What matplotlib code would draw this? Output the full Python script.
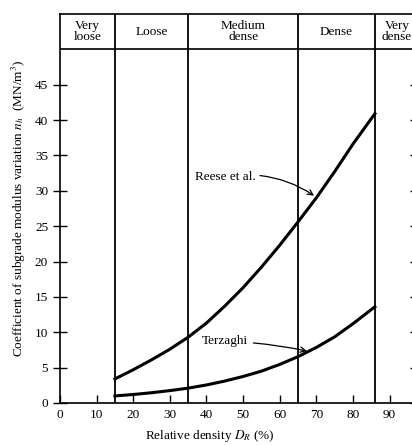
import matplotlib
matplotlib.use("Agg")
import matplotlib.pyplot as plt

plt.rcParams['font.family'] = ['Liberation Serif', 'DejaVu Serif']
plt.rcParams['mathtext.fontset'] = 'stix'

# data
reese_x = [15, 20, 25, 30, 35, 40, 45, 50, 55, 60, 65, 70, 75, 80, 86]
reese_y = [3.4, 4.7, 6.1, 7.6, 9.3, 11.3, 13.7, 16.3, 19.2, 22.3, 25.6, 29.0, 32.7, 36.6, 40.9]
terz_x = [15, 20, 25, 30, 35, 40, 45, 50, 55, 60, 65, 70, 75, 80, 86]
terz_y = [1.0, 1.2, 1.45, 1.75, 2.1, 2.55, 3.1, 3.75, 4.5, 5.45, 6.55, 7.85, 9.35, 11.2, 13.6]

bounds = [15, 35, 65, 86]
classes = ['Very\nloose', 'Loose', 'Medium\ndense', 'Dense', 'Very\ndense']
class_x = [7.5, 25, 50, 75.5, 92.0]

fig = plt.figure(figsize=(4.12, 4.45), dpi=100)
ax = fig.add_axes([0.1456, 0.0944, 0.8665, 0.8742])

ax.plot(reese_x, reese_y, color='black', lw=2.2)
ax.plot(terz_x, terz_y, color='black', lw=2.2)

for b in bounds:
    ax.axvline(b, color='black', lw=1.3)
ax.axhline(50, color='black', lw=1.2)

for cx, name in zip(class_x, classes):
    ax.text(cx, 52.5, name, ha='center', va='center', fontsize=9.5, linespacing=0.9)

ax.annotate('Reese et al.', xy=(69.7, 29.2), xytext=(53.5, 32.0),
            ha='right', va='center', fontsize=9.5,
            arrowprops=dict(arrowstyle='->', color='black', lw=0.9,
                            connectionstyle='arc3,rad=-0.2', shrinkA=1, shrinkB=1))
ax.annotate('Terzaghi', xy=(67.8, 7.3), xytext=(51.3, 8.7),
            ha='right', va='center', fontsize=9.5,
            arrowprops=dict(arrowstyle='->', color='black', lw=0.9,
                            connectionstyle='arc3,rad=-0.05', shrinkA=2, shrinkB=1))

ax.set_xlim(0, 97.5)
ax.set_ylim(0, 55)
ax.set_xticks(range(0, 100, 10))
ax.set_yticks(range(0, 50, 5))
ax.tick_params(axis='x', direction='in', length=6, width=1, labelsize=9.5, pad=4)
ax.tick_params(axis='y', direction='inout', length=10, width=1, labelsize=9.5, right=True)

for s in ax.spines.values():
    s.set_linewidth(1.2)

ax.set_ylabel(r'Coefficient of subgrade modulus variation $n_h$  (MN/m$^3$)', fontsize=9.5, labelpad=5)
ax.set_xlabel(r'Relative density $D_R$ (%)', fontsize=9.5, labelpad=3)
ax.xaxis.set_label_coords(0.42, -0.065)

fig.savefig('out.png', dpi=100)
